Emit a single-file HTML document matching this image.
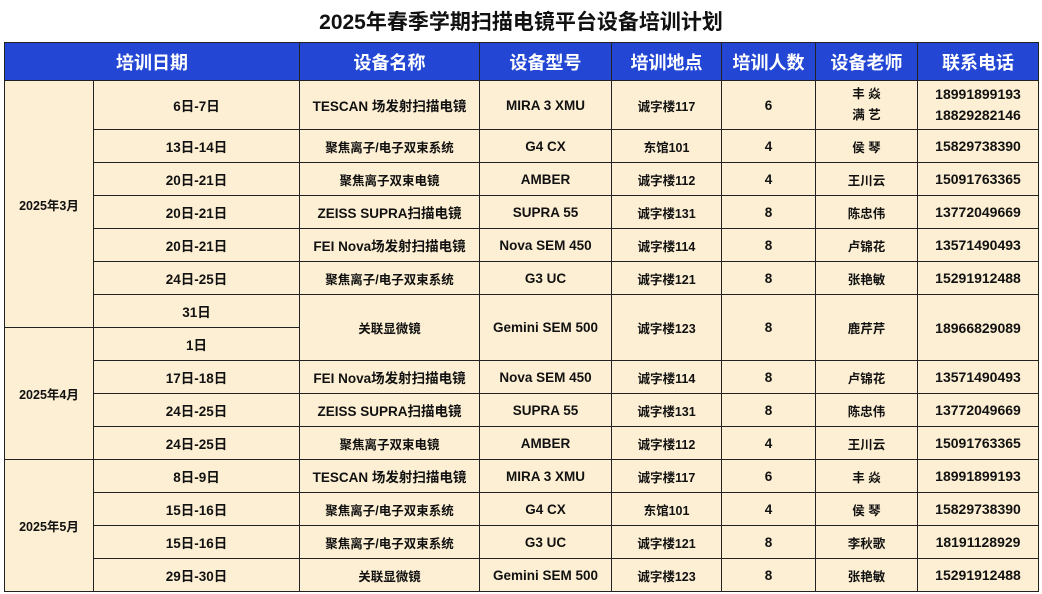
<!DOCTYPE html>
<html><head><meta charset="utf-8"><style>
body{margin:0;background:#fff;width:1042px;height:594px;overflow:hidden;font-family:"Liberation Sans","Noto Sans CJK SC",sans-serif;}
.title{position:absolute;left:0;top:6px;width:1042px;text-align:center;font-size:21px;font-weight:bold;color:#111;}
table{position:absolute;left:4px;top:42px;border-collapse:collapse;table-layout:fixed;}
td,th{border:1px solid #222;text-align:center;vertical-align:middle;padding:0;font-weight:bold;font-size:13.5px;color:#111;background:#fdefd3;overflow:hidden;white-space:nowrap;}
th{background:#2347d4;color:#fff;font-size:18px;height:37px;}
tr.r td{height:32px;}
.s{font-size:12.5px;}
.p{font-size:14px;}
</style></head><body>
<div class="title">2025年春季学期扫描电镜平台设备培训计划</div>
<table>
<colgroup><col style="width:89px"><col style="width:206px"><col style="width:180px"><col style="width:132px"><col style="width:110px"><col style="width:94px"><col style="width:102px"><col style="width:121px"></colgroup>
<tr><th colspan="2">培训日期</th><th>设备名称</th><th>设备型号</th><th>培训地点</th><th>培训人数</th><th>设备老师</th><th>联系电话</th></tr>
<tr style="height:49px"><td rowspan="7" class="s">2025年3月</td><td>6日-7日</td><td>TESCAN 场发射扫描电镜</td><td>MIRA 3 XMU</td><td class="s">诚字楼117</td><td>6</td><td class="s" style="line-height:21px">丰 焱<br>满 艺</td><td class="p" style="line-height:21px">18991899193<br>18829282146</td></tr>
<tr class="r"><td>13日-14日</td><td class="s">聚焦离子/电子双束系统</td><td>G4 CX</td><td class="s">东馆101</td><td>4</td><td class="s">侯 琴</td><td class="p">15829738390</td></tr>
<tr class="r"><td>20日-21日</td><td class="s">聚焦离子双束电镜</td><td>AMBER</td><td class="s">诚字楼112</td><td>4</td><td class="s">王川云</td><td class="p">15091763365</td></tr>
<tr class="r"><td>20日-21日</td><td>ZEISS SUPRA扫描电镜</td><td>SUPRA 55</td><td class="s">诚字楼131</td><td>8</td><td class="s">陈忠伟</td><td class="p">13772049669</td></tr>
<tr class="r"><td>20日-21日</td><td>FEI Nova场发射扫描电镜</td><td>Nova SEM 450</td><td class="s">诚字楼114</td><td>8</td><td class="s">卢锦花</td><td class="p">13571490493</td></tr>
<tr class="r"><td>24日-25日</td><td class="s">聚焦离子/电子双束系统</td><td>G3 UC</td><td class="s">诚字楼121</td><td>8</td><td class="s">张艳敏</td><td class="p">15291912488</td></tr>
<tr class="r"><td>31日</td><td rowspan="2" class="s">关联显微镜</td><td rowspan="2">Gemini SEM 500</td><td rowspan="2" class="s">诚字楼123</td><td rowspan="2">8</td><td rowspan="2" class="s">鹿芹芹</td><td rowspan="2" class="p">18966829089</td></tr>
<tr class="r"><td rowspan="4" class="s">2025年4月</td><td>1日</td></tr>
<tr class="r"><td>17日-18日</td><td>FEI Nova场发射扫描电镜</td><td>Nova SEM 450</td><td class="s">诚字楼114</td><td>8</td><td class="s">卢锦花</td><td class="p">13571490493</td></tr>
<tr class="r"><td>24日-25日</td><td>ZEISS SUPRA扫描电镜</td><td>SUPRA 55</td><td class="s">诚字楼131</td><td>8</td><td class="s">陈忠伟</td><td class="p">13772049669</td></tr>
<tr class="r"><td>24日-25日</td><td class="s">聚焦离子双束电镜</td><td>AMBER</td><td class="s">诚字楼112</td><td>4</td><td class="s">王川云</td><td class="p">15091763365</td></tr>
<tr class="r"><td rowspan="4" class="s">2025年5月</td><td>8日-9日</td><td>TESCAN 场发射扫描电镜</td><td>MIRA 3 XMU</td><td class="s">诚字楼117</td><td>6</td><td class="s">丰 焱</td><td class="p">18991899193</td></tr>
<tr class="r"><td>15日-16日</td><td class="s">聚焦离子/电子双束系统</td><td>G4 CX</td><td class="s">东馆101</td><td>4</td><td class="s">侯 琴</td><td class="p">15829738390</td></tr>
<tr class="r"><td>15日-16日</td><td class="s">聚焦离子/电子双束系统</td><td>G3 UC</td><td class="s">诚字楼121</td><td>8</td><td class="s">李秋歌</td><td class="p">18191128929</td></tr>
<tr class="r"><td>29日-30日</td><td class="s">关联显微镜</td><td>Gemini SEM 500</td><td class="s">诚字楼123</td><td>8</td><td class="s">张艳敏</td><td class="p">15291912488</td></tr>
</table>
</body></html>
